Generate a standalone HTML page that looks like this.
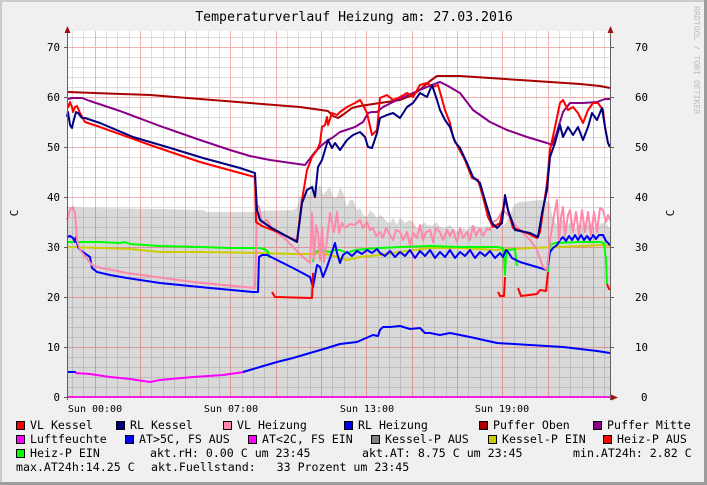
<!DOCTYPE html>
<html><head><meta charset="utf-8"><style>
html,body{margin:0;padding:0;background:#f0f0f0;}
svg{display:block;}
text{font-family:"DejaVu Sans Mono","Liberation Mono",monospace;}
</style></head><body>
<svg width="707" height="485" viewBox="0 0 707 485" xmlns="http://www.w3.org/2000/svg">
<rect x="0" y="0" width="707" height="485" fill="#f0f0f0"/>
<rect x="0" y="0" width="707" height="2" fill="#cbcbcb"/>
<rect x="0" y="0" width="2" height="485" fill="#cbcbcb"/>
<rect x="704" y="0" width="3" height="485" fill="#9c9c9c"/>
<rect x="0" y="482" width="707" height="3" fill="#9c9c9c"/>

<text x="354" y="21" font-size="13.2" text-anchor="middle" fill="#000">Temperaturverlauf Heizung am: 27.03.2016</text>
<text transform="translate(694,6) rotate(90)" font-size="8.2" fill="#bdbdbd">RRDTOOL / TOBI OETIKER</text>

<!-- canvas -->
<rect x="68" y="31" width="542" height="366" fill="#ffffff"/>
<!-- gray area -->
<polygon fill="#d9d9d9" points="68,397 68,207 90,208 160,209 203,210 207,212 255,212 260,211 293,210 297,208 300,195 303,200 306,186 309,196 313,183 316,190 320,185 323,195 327,190 330,187 333,198 337,197 340,187 343,193 347,207 350,200 353,200 357,210 360,208 363,215 367,217 370,210 373,213 377,218 380,215 383,217 387,222 390,223 393,218 397,225 400,218 405,223 410,220 413,222 417,228 420,227 424,222 427,225 432,226 436,222 440,227 445,228 450,225 453,228 458,232 463,228 467,230 470,226 473,225 480,228 487,226 493,229 500,227 505,224 510,215 514,205 517,203 520,202 530,201 540,200 547,201 550,203 552,215 555,222 558,226 562,219 566,228 570,222 575,229 580,224 585,228 590,222 595,228 600,224 605,222 610,228 610,397"/>

<!-- minor grid -->
<path stroke="rgba(0,0,0,0.13)" stroke-width="1" fill="none" d="
M72.5 31V397M83.5 31V397M106.5 31V397M117.5 31V397M129.5 31V397M151.5 31V397M163.5 31V397M174.5 31V397M196.5 31V397M208.5 31V397M219.5 31V397M242.5 31V397M253.5 31V397M264.5 31V397M287.5 31V397M298.5 31V397M310.5 31V397M332.5 31V397M344.5 31V397M355.5 31V397M378.5 31V397M389.5 31V397M400.5 31V397M423.5 31V397M434.5 31V397M446.5 31V397M468.5 31V397M480.5 31V397M491.5 31V397M514.5 31V397M525.5 31V397M536.5 31V397M559.5 31V397M570.5 31V397M582.5 31V397M604.5 31V397
M68 37.5H610M68 57.5H610M68 67.5H610M68 77.5H610M68 87.5H610M68 107.5H610M68 117.5H610M68 127.5H610M68 137.5H610M68 157.5H610M68 167.5H610M68 177.5H610M68 187.5H610M68 207.5H610M68 217.5H610M68 227.5H610M68 237.5H610M68 257.5H610M68 267.5H610M68 277.5H610M68 287.5H610M68 307.5H610M68 317.5H610M68 327.5H610M68 337.5H610M68 357.5H610M68 367.5H610M68 377.5H610M68 387.5H610"/>
<!-- major grid -->
<path stroke="rgba(220,0,0,0.3)" stroke-width="1" fill="none" d="
M95.5 31V397M140.5 31V397M185.5 31V397M230.5 31V397M276.5 31V397M321.5 31V397M366.5 31V397M412.5 31V397M457.5 31V397M502.5 31V397M548.5 31V397M593.5 31V397
M68 47.5H610M68 97.5H610M68 147.5H610M68 197.5H610M68 247.5H610M68 297.5H610M68 347.5H610"/>

<g fill="none" stroke-width="2" stroke-linejoin="round" stroke-linecap="butt">
<!-- Puffer Oben -->
<polyline stroke="#aa0000" points="68,92 150,95 250,103 300,107 328,111 333,116 338,118 344,114 352,108 360,106 380,103 400,100 413,95 422,88 430,81 437,76 460,76 490,78 520,80 550,82 580,84 600,86 610,88"/>
<!-- Puffer Mitte -->
<polyline stroke="#880088" points="68,99 72,98 82,98 90,101 120,111 160,126 200,140 230,150 250,156 270,160 305,165 315,152 322,145 328,140 332,138 340,132 355,127 363,122 368,113 372,112 377,112 383,107 397,100 413,93 427,87 437,83 440,82 448,86 460,93 473,110 490,122 507,130 527,137 547,143 552,145 556,135 563,112 570,103 583,103 597,102 605,99 610,99"/>
<!-- gray / yellow lines -->
<polyline stroke="#cccc00" points="68,247 100,248 130,249 160,252 200,252 260,253 293,254 310,254 320,253 330,255 347,260 360,257 380,255 400,252 430,248 460,248 497,250 530,248 560,247 603,245 610,246"/>
<!-- Heiz-P EIN green -->
<polyline stroke="#00ff00" points="68,242 80,242 100,242 120,243 125,242 130,244 160,246 200,247 230,248 260,248 266,250 268,252 270,258"/>
<polyline stroke="#00ff00" points="313,262 315,252 320,250 325,251 330,252 335,250 340,250 347,253 355,250 365,249 380,248 400,247 430,246 460,247 497,247 503,248 504,260 505,275 506,255 508,250 515,249 516,258 517,266"/>
<polyline stroke="#00ff00" points="548,272 550,245 555,243 580,242 600,242 604,243 606,260 607,284"/>
<!-- RL Heizung blue -->
<polyline stroke="#0000ff" points="67,237 70,236 73,238 75,242 76,237 78,247 80,250 90,257 92,268 97,272 110,275 127,278 160,283 210,288 253,292 258,292 259,257 262,255 267,255 273,258 293,268 310,277 313,287 317,265 320,267 323,277 327,267 332,252 335,243 337,253 340,263 343,255 347,252 352,256 357,251 362,254 367,250 372,253 377,249 380,253 385,256 390,251 395,257 400,252 405,256 410,250 415,258 420,251 425,256 430,250 435,258 440,252 445,257 450,250 455,258 460,252 465,256 470,250 475,258 480,252 485,256 490,251 495,258 500,253 503,257 506,250 508,252 512,258 520,262 530,265 547,270 550,252 553,248 557,245 560,240 563,237 566,241 569,236 572,240 575,235 578,240 581,235 584,240 587,236 590,240 593,235 596,239 599,235 603,235 606,241 610,245"/>
<!-- VL Heizung pink -->
<polyline stroke="#ff88aa" points="67,220 70,210 73,207 75,213 77,240 80,250 92,265 97,267 127,273 193,282 255,288 256,255 257,205 259,207 262,223 267,220 273,230 283,237 293,247 303,257 310,263 312,213 314,260 316,225 318,233 320,260 322,227 324,262 327,240 330,213 332,223 334,232 337,212 339,233 342,223 345,228 350,224 355,225 360,220 363,228 367,222 370,230 373,228 376,236 380,232 383,238 386,228 390,235 393,240 396,230 400,232 403,240 407,232 410,245 413,233 417,238 420,225 423,240 426,232 430,230 433,242 436,228 440,232 443,240 447,230 450,236 453,230 457,242 460,228 463,238 467,232 470,240 473,226 476,236 480,228 483,236 487,229 490,230 493,222 497,220 500,215 503,210 506,213 510,217 513,222 517,227 520,230 523,233 527,237 530,240 537,250 543,267 547,270 550,240 553,222 555,210 557,200 559,240 561,217 563,207 565,235 568,215 570,210 573,232 576,212 579,235 582,210 585,232 588,212 591,236 594,212 597,232 600,208 603,210 606,222 608,215 610,220"/>
<!-- Heiz-P AUS red low -->
<polyline stroke="#ff0000" points="272,292 275,297 312,298 313,273"/>
<polyline stroke="#ff0000" points="498,292 500,296 504,296 505,277"/>
<polyline stroke="#ff0000" points="518,288 521,296 537,294 540,290 546,291 548,272"/>
<polyline stroke="#ff0000" points="607,284 609,289 610,289"/>
<!-- VL Kessel red -->
<polyline stroke="#ff0000" points="68,108 70,102 72,107 73,112 75,107 77,106 80,113 85,122 100,127 150,145 200,162 240,173 255,177 256,222 262,226 280,233 297,241 302,200 307,170 312,157 317,150 320,143 322,127 325,125 327,117 328,125 332,113 337,115 340,112 347,107 355,103 360,100 363,105 367,113 372,135 377,130 380,98 387,95 393,100 400,97 407,93 413,97 420,85 427,83 433,87 438,85 440,92 445,110 450,123 453,137 458,147 465,160 472,178 478,180 483,197 488,217 493,227 500,223 505,200 508,210 513,228 527,233 537,238 540,232 547,183 550,150 555,127 560,103 563,100 568,110 573,107 578,113 583,123 588,110 593,103 598,103 603,110 605,127 608,143 610,147"/>
<!-- RL Kessel navy -->
<polyline stroke="#000080" points="67,117 68,112 70,125 72,128 73,123 76,112 78,113 82,118 85,118 100,123 133,137 167,147 203,158 240,168 255,173 257,210 260,220 270,227 297,242 302,203 307,190 312,187 315,197 318,167 322,160 325,150 328,140 332,148 335,143 340,150 347,140 353,135 360,132 365,137 368,147 372,148 377,133 380,118 387,115 393,113 400,118 407,107 413,103 420,93 427,97 432,85 437,100 440,110 445,120 450,127 455,142 460,148 467,163 473,177 480,183 487,207 492,223 497,228 502,223 505,195 508,210 515,230 530,233 538,237 542,213 547,190 550,157 555,143 560,125 563,137 568,127 573,135 578,127 583,140 588,127 592,113 597,120 602,108 605,127 608,143 610,147"/>
<!-- outdoor temp -->
<polyline stroke="#0000ff" points="67,372 76,372"/>
<polyline stroke="#ff00ff" points="75,373 90,374 110,377 130,379 150,382 160,380 193,377 223,375 244,372"/>
<polyline stroke="#0000ff" points="243,372 260,367 277,362 293,358 310,353 327,348 340,344 357,342 373,335 378,336 380,330 383,327 390,327 400,326 410,329 420,328 425,333 430,333 440,335 450,333 470,337 497,343 530,345 563,347 597,351 610,353"/>
</g>

<!-- axes -->
<path stroke="#606060" stroke-width="1" fill="none" d="M67.5 30V400M610.5 30V400M64 397.5H613"/>
<path stroke="#606060" stroke-width="1" d="M64 47.5H67M64 97.5H67M64 147.5H67M64 197.5H67M64 247.5H67M64 297.5H67M64 347.5H67M611 47.5H614M611 97.5H614M611 147.5H614M611 197.5H614M611 247.5H614M611 297.5H614M611 347.5H614"/>
<line x1="68" y1="397" x2="610" y2="397" stroke="#ee22dd" stroke-width="2"/>
<polygon fill="#a01010" points="67.5,26 64.5,33 70.5,33"/>
<polygon fill="#a01010" points="610.5,26 607.5,33 613.5,33"/>
<polygon fill="#a01010" points="618,397.5 611,394.5 611,400.5"/>

<!-- y labels -->
<g font-size="10.8" fill="#000" text-anchor="end">
<text x="60" y="51">70</text><text x="60" y="101">60</text><text x="60" y="151">50</text><text x="60" y="201">40</text><text x="60" y="251">30</text><text x="60" y="301">20</text><text x="60" y="351">10</text><text x="60" y="401">0</text>
</g>
<g font-size="10.8" fill="#000" text-anchor="start">
<text x="635" y="51">70</text><text x="635" y="101">60</text><text x="635" y="151">50</text><text x="635" y="201">40</text><text x="635" y="251">30</text><text x="635" y="301">20</text><text x="635" y="351">10</text><text x="641" y="401">0</text>
</g>
<text transform="translate(18,213) rotate(-90)" font-size="11" text-anchor="middle">C</text>
<text transform="translate(674,213) rotate(-90)" font-size="11" text-anchor="middle">C</text>

<!-- x labels -->
<g font-size="10" fill="#000" text-anchor="middle">
<text x="95" y="412">Sun 00:00</text><text x="231" y="412">Sun 07:00</text><text x="367" y="412">Sun 13:00</text><text x="502" y="412">Sun 19:00</text>
</g>

<!-- legend -->
<g stroke="#000" stroke-width="1">
<rect x="16.5" y="421.5" width="8" height="8" fill="#ff0000"/>
<rect x="116.5" y="421.5" width="8" height="8" fill="#000080"/>
<rect x="223.5" y="421.5" width="8" height="8" fill="#ff88aa"/>
<rect x="344.5" y="421.5" width="8" height="8" fill="#0000ff"/>
<rect x="479.5" y="421.5" width="8" height="8" fill="#aa0000"/>
<rect x="593.5" y="421.5" width="8" height="8" fill="#880088"/>
<rect x="16.5" y="435.5" width="8" height="8" fill="#ff00ff"/>
<rect x="125.5" y="435.5" width="8" height="8" fill="#0000ff"/>
<rect x="248.5" y="435.5" width="8" height="8" fill="#ff00ff"/>
<rect x="371.5" y="435.5" width="8" height="8" fill="#808080"/>
<rect x="488.5" y="435.5" width="8" height="8" fill="#cccc00"/>
<rect x="603.5" y="435.5" width="8" height="8" fill="#ff0000"/>
<rect x="16.5" y="449.5" width="8" height="8" fill="#00ff00"/>
</g>
<g font-size="11.6" fill="#000" style="white-space:pre">
<text x="30" y="429">VL Kessel</text>
<text x="130" y="429">RL Kessel</text>
<text x="237" y="429">VL Heizung</text>
<text x="358" y="429">RL Heizung</text>
<text x="493" y="429">Puffer Oben</text>
<text x="607" y="429">Puffer Mitte</text>
<text x="30" y="443">Luftfeuchte</text>
<text x="139" y="443">AT&gt;5C, FS AUS</text>
<text x="262" y="443">AT&lt;2C, FS EIN</text>
<text x="385" y="443">Kessel-P AUS</text>
<text x="502" y="443">Kessel-P EIN</text>
<text x="617" y="443">Heiz-P AUS</text>
<text x="30" y="457">Heiz-P EIN</text>
<text x="150" y="457" xml:space="preserve">akt.rH: 0.00 C um 23:45</text>
<text x="362" y="457" xml:space="preserve">akt.AT: 8.75 C um 23:45</text>
<text x="573" y="457" xml:space="preserve">min.AT24h: 2.82 C</text>
<text x="16" y="471" xml:space="preserve">max.AT24h:14.25 C</text>
<text x="151" y="471" xml:space="preserve">akt.Fuellstand:   33 Prozent um 23:45</text>
</g>
</svg>
</body></html>
